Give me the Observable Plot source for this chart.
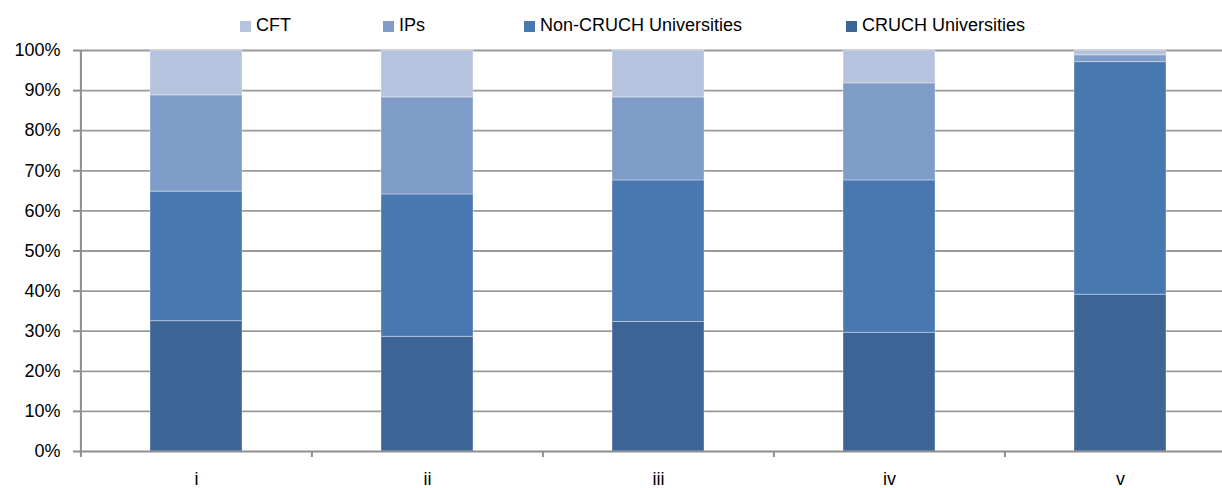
<!DOCTYPE html>
<html>
<head>
<meta charset="utf-8">
<script src="https://cdn.jsdelivr.net/npm/d3@7"></script>
<script src="https://cdn.jsdelivr.net/npm/@observablehq/plot@0.6"></script>
<style>
  html, body { margin: 0; padding: 0; background: #fff; overflow: hidden; }
  #wrap { position: relative; width: 1222px; height: 488px; overflow: hidden; }
  #wrap svg { position: absolute; left: 0; top: 0; max-width: none !important; }
  .sw { position: absolute; top: 21px; width: 11px; height: 11px; }
  .lt { position: absolute; top: 16px; font: 18px/18px "Liberation Sans", Arial, sans-serif; color: #000; white-space: nowrap; }
</style>
</head>
<body>
<div id="wrap"></div>
<script>
// ---- data ----
const categories = ["i", "ii", "iii", "iv", "v"];
const series = ["CRUCH Universities", "Non-CRUCH Universities", "IPs", "CFT"]; // bottom -> top
const cruch    = [32.5, 28.6, 32.3, 29.6, 39.1];
const nonCruch = [32.3, 35.5, 35.3, 38.0, 58.0];
const ips      = [24.0, 24.2, 20.7, 24.2, 1.7];
const cft      = [11.2, 11.7, 11.7, 8.2, 1.2];
const colors   = ["#3C6596", "#4878B0", "#7F9BC7", "#B6C3DE"];
const yTicks   = [0, 10, 20, 30, 40, 50, 60, 70, 80, 90, 100];
const legendOrder = ["CFT", "IPs", "Non-CRUCH Universities", "CRUCH Universities"];

// ---- table ----
const valueArrays = [cruch, nonCruch, ips, cft];
const data = [];
categories.forEach((c, i) => {
  valueArrays.forEach((arr, j) => data.push({cat: c, series: series[j], value: arr[i]}));
});

// ---- layout ----
const W = 1236, H = 488, mL = 80, mR = 0, mT = 50, mB = 37;
const step = (W - mL - mR) / categories.length;
const gray = "#8e8e8e";

const chart = Plot.plot({
  width: W, height: H,
  marginLeft: mL, marginRight: mR, marginTop: mT, marginBottom: mB,
  style: {fontFamily: '"Liberation Sans", Arial, sans-serif', fontSize: "18px", color: "#000", background: "#fff", overflow: "visible", maxWidth: "none"},
  x: {domain: categories, paddingInner: 0.6, paddingOuter: 0.3, axis: null, label: null},
  y: {domain: [0, 100], axis: null, label: null},
  color: {domain: series, range: colors},
  marks: [
    Plot.ruleY(yTicks.slice(1), {stroke: "#9a9a9a", strokeWidth: 1.8}),
    Plot.barY(data, Plot.stackY({order: series}, {
      x: "cat", y: "value", fill: "series",
      stroke: "#ffffff", strokeOpacity: 0.35, strokeWidth: 1
    })),
    Plot.ruleY([0], {stroke: gray, strokeWidth: 2}),
    Plot.ruleX([categories[0]], {x: d => d, dx: -step / 2, y1: 0, y2: 100, stroke: gray, strokeWidth: 2}),
    Plot.ruleX(categories, {x: d => d, dx: -step / 2, y1: 0, y2: -1.5, stroke: gray, strokeWidth: 2}),
    Plot.axisY({ticks: yTicks, tickFormat: d => d + "%", tickSize: 7, tickPadding: 13, stroke: gray, strokeWidth: 2, fontSize: 18, label: null}),
    Plot.axisX({tickSize: 0, tickPadding: 21, fontSize: 18, label: null})
  ]
});

const wrap = document.getElementById("wrap");
wrap.appendChild(chart);

// ---- legend (HTML, over the top margin) ----
const legendX = [240, 383, 524, 846];
legendOrder.forEach((name, k) => {
  const sw = document.createElement("div");
  sw.className = "sw";
  sw.style.left = legendX[k] + "px";
  sw.style.background = colors[series.indexOf(name)];
  wrap.appendChild(sw);
  const t = document.createElement("div");
  t.className = "lt";
  t.style.left = (legendX[k] + 16) + "px";
  t.textContent = name;
  wrap.appendChild(t);
});
</script>
</body>
</html>
